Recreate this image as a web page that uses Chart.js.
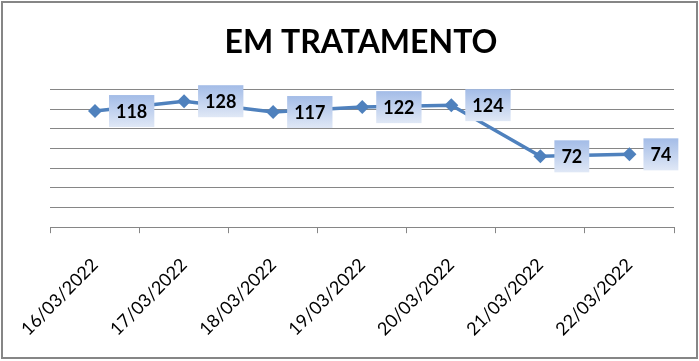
<!DOCTYPE html>
<html>
<head>
<meta charset="utf-8">
<script src="https://cdn.jsdelivr.net/npm/chart.js@4.4.1/dist/chart.umd.min.js"></script>
<style>
    body { margin: 0; background: #fff; }
    #wrap { width: 699px; height: 361px; position: relative; }
</style>
</head>
<body>
<div id="wrap"><canvas id="tratChart"></canvas></div>
<script>
const dates = ['16/03/2022', '17/03/2022', '18/03/2022', '19/03/2022', '20/03/2022', '21/03/2022', '22/03/2022'];
const emTratamento = [118, 128, 117, 122, 124, 72, 74];
const yMin = 0;
const yMax = 140;
const yStep = 20;

const FONT = 'Lato, "Open Sans", sans-serif';
const GRID = '#868686';
const LINE = '#4f81bd';

// fundo branco + moldura cinza
const frame = {
    id: 'frame',
    beforeDraw(chart) {
        const c = chart.ctx;
        c.save();
        c.fillStyle = '#fff';
        c.fillRect(0, 0, chart.width, chart.height);
        c.strokeStyle = GRID;
        c.lineWidth = 2;
        c.strokeRect(2, 2, chart.width - 4, chart.height - 5);
        c.restore();
    }
};

// caixinhas com os valores, à direita de cada ponto
const valueBoxes = {
    id: 'valueBoxes',
    afterDatasetsDraw(chart) {
        const c = chart.ctx;
        const meta = chart.getDatasetMeta(0);
        c.save();
        c.font = 'bold 18px ' + FONT;
        c.textAlign = 'center';
        c.textBaseline = 'middle';
        meta.data.forEach((pt, i) => {
            const txt = String(chart.data.datasets[0].data[i]);
            const w = c.measureText(txt).width + 14;
            const h = 32;
            const left = pt.x + 14;
            const top = pt.y - h / 2;
            const g = c.createLinearGradient(0, top, 0, top + h);
            g.addColorStop(0, '#a3bce7');
            g.addColorStop(1, '#e0e8f6');
            c.fillStyle = g;
            c.fillRect(left, top, w, h);
            c.fillStyle = '#000';
            c.fillText(txt, left + w / 2, pt.y + 1);
        });
        c.restore();
    }
};

new Chart(document.getElementById('tratChart'), {
    type: 'line',
    data: {
        labels: dates,
        datasets: [{
            label: 'EM TRATAMENTO',
            data: emTratamento,
            borderColor: LINE,
            backgroundColor: LINE,
            borderWidth: 3.5,
            pointStyle: 'rectRot',
            pointRadius: 7,
            pointHoverRadius: 7,
            pointBackgroundColor: LINE,
            pointBorderWidth: 0,
            tension: 0
        }]
    },
    options: {
        responsive: true,
        maintainAspectRatio: false,
        animation: false,
        layout: { padding: { left: 48, right: 25, bottom: 0 } },
        plugins: {
            legend: { display: false },
            tooltip: { enabled: false },
            title: {
                display: true,
                text: 'EM TRATAMENTO',
                color: '#000',
                font: { family: FONT, size: 32, weight: 'bold' },
                padding: { top: 23, bottom: 28 }
            }
        },
        scales: {
            x: {
                offset: true,
                grid: { offset: true, drawOnChartArea: false, color: GRID, tickLength: 6 },
                border: { color: GRID },
                ticks: {
                    color: '#000',
                    font: { family: FONT, size: 18 },
                    padding: 21,
                    minRotation: 45,
                    maxRotation: 45,
                    autoSkip: false
                }
            },
            y: {
                min: yMin,
                max: yMax,
                ticks: { stepSize: yStep, display: false },
                grid: { color: GRID, drawTicks: false },
                border: { display: false }
            }
        }
    },
    plugins: [frame, valueBoxes]
});
</script>
</body>
</html>
